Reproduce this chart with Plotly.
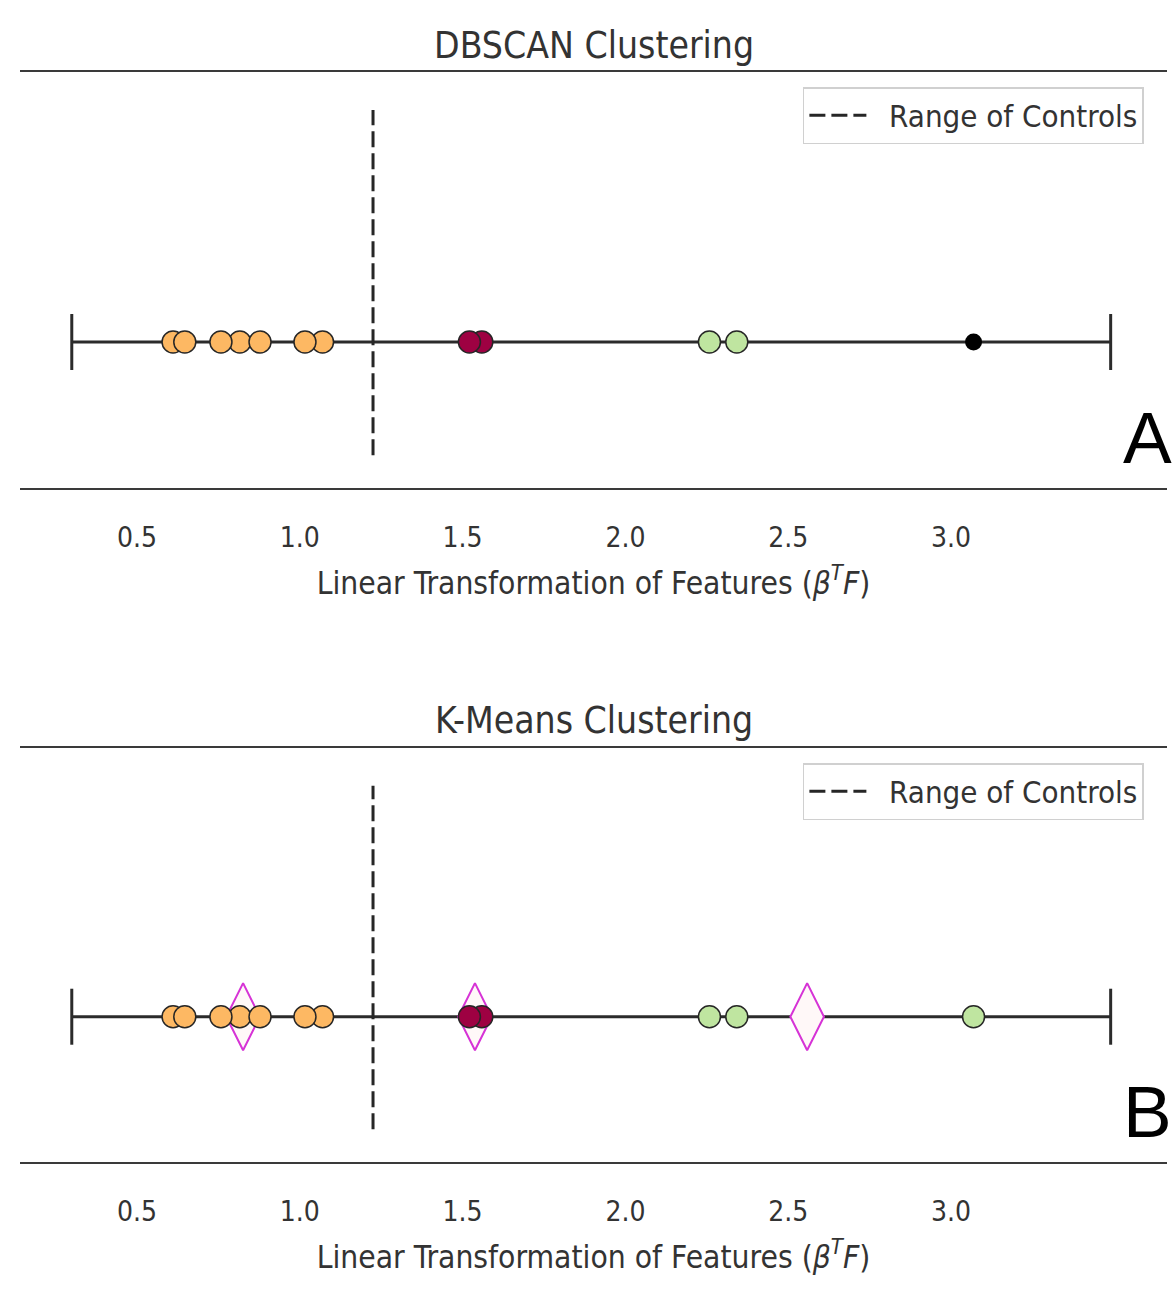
import plotly.graph_objects as go

# Projected values (beta^T F) per sample, grouped by cluster label
orange_x = [0.611, 0.816, 1.070, 0.647, 0.758, 0.878, 1.016]
red_x = [1.559, 1.521]
green_x = [2.258, 2.342]
noise_x = [3.069]                      # DBSCAN noise point
kmeans_green_x = [2.258, 2.342, 3.069]  # K-Means assigns the outlier to the green cluster
centroid_x = [0.826, 1.538, 2.558]      # K-Means cluster centres

# Overall extent of the projected values and the control range marker
range_lo, range_hi = 0.30, 3.49
control_x = 1.225
control_y = [-1.0, 2.05]

x_ticks = [0.5, 1.0, 1.5, 2.0, 2.5, 3.0]
x_tick_text = ["0.5", "1.0", "1.5", "2.0", "2.5", "3.0"]

titles = ["DBSCAN Clustering", "K-Means Clustering"]
panel_letters = ["A", "B"]

ORANGE = "#fdb863"
RED = "#9e0142"
GREEN = "#bfe5a0"
EDGE = "#262626"
MAGENTA = "#d633d6"
TEXT = "#333333"
FONT = "DejaVu Sans Condensed, DejaVu Sans, sans-serif"

W, H = 1175, 1310
# vertical pixel extents of each panel's plotting area
panel_px = [(72, 488), (748, 1162)]
x_range = [0.141, 3.663]
y_range = [-1.29, 2.386]

fig = go.Figure()


def circles(xs, color, axis_id, size=22, edge_w=1.5, edge=EDGE):
    return go.Scatter(
        x=xs, y=[0] * len(xs), mode="markers",
        marker=dict(symbol="circle", size=size, color=color,
                    line=dict(color=edge, width=edge_w)),
        xaxis="x" + axis_id, yaxis="y" + axis_id,
        showlegend=False, hoverinfo="x",
    )


for i in range(2):
    aid = "" if i == 0 else str(i + 1)
    legend_name = "legend" if i == 0 else "legend2"

    # horizontal extent line with end caps
    fig.add_trace(go.Scatter(
        x=[range_lo, range_hi], y=[0, 0], mode="lines+markers",
        line=dict(color="#2b2b2b", width=3),
        marker=dict(symbol="line-ns-open", size=40,
                    line=dict(color="#2b2b2b", width=3)),
        xaxis="x" + aid, yaxis="y" + aid, showlegend=False, hoverinfo="skip",
    ))

    # control range
    fig.add_trace(go.Scatter(
        x=[control_x, control_x], y=control_y, mode="lines",
        line=dict(color="#262626", width=3, dash="16px,6px"),
        name="\u00a0\u00a0Range of Controls", legend=legend_name,
        xaxis="x" + aid, yaxis="y" + aid, hoverinfo="skip",
    ))

    if i == 1:
        fig.add_trace(go.Scatter(
            x=centroid_x, y=[0] * len(centroid_x), mode="markers",
            marker=dict(symbol="diamond-tall", size=48, color="#fff8f8",
                        line=dict(color=MAGENTA, width=2)),
            xaxis="x" + aid, yaxis="y" + aid, showlegend=False, hoverinfo="x",
        ))

    fig.add_trace(circles(orange_x, ORANGE, aid))
    fig.add_trace(circles(red_x, RED, aid))
    if i == 0:
        fig.add_trace(circles(green_x, GREEN, aid))
        fig.add_trace(circles(noise_x, "black", aid, size=17, edge_w=0, edge="black"))
    else:
        fig.add_trace(circles(kmeans_green_x, GREEN, aid))

    top_px, bot_px = panel_px[i]
    dom = [1 - bot_px / H, 1 - top_px / H]

    fig.layout["xaxis" + aid] = dict(
        domain=[0, 1], range=x_range, anchor="y" + aid,
        showline=True, mirror=True, linecolor="#3a3a3a", linewidth=2,
        showgrid=False, zeroline=False,
        tickvals=x_ticks, ticktext=x_tick_text,
        ticks="outside", ticklen=23, tickcolor="rgba(0,0,0,0)",
        tickfont=dict(family=FONT, size=28, color=TEXT),
        title=dict(
            text="Linear Transformation of Features (<i>β</i><sup><i>T</i></sup><i>F</i>)",
            font=dict(family=FONT, size=31.5, color=TEXT), standoff=19),
        automargin=False, fixedrange=True,
    )
    fig.layout["yaxis" + aid] = dict(
        domain=dom, range=y_range, anchor="x" + aid,
        visible=False, fixedrange=True,
    )

    fig.layout[legend_name] = dict(
        x=802 / W, y=1 - (top_px + 15) / H, xanchor="left", yanchor="top",
        bgcolor="white", bordercolor="#d0d0d0", borderwidth=1.5,
        font=dict(family=FONT, size=31, color=TEXT),
        itemwidth=57,
    )

    # panel title
    fig.add_annotation(
        text=titles[i], x=0.5, xref="paper", y=1 - (top_px - 27) / H, yref="paper",
        showarrow=False, xanchor="center", yanchor="middle",
        font=dict(family=FONT, size=37, color=TEXT),
    )
    # panel letter
    fig.add_annotation(
        text=panel_letters[i], x=1182 / W, xref="paper", y=1 - (bot_px - 8) / H,
        yref="paper", showarrow=False, xanchor="right", yanchor="bottom",
        font=dict(family="Liberation Sans, Arial, sans-serif", size=73, color="black"),
    )

fig.update_layout(
    width=W, height=H,
    margin=dict(l=20, r=8, t=0, b=0),
    paper_bgcolor="white", plot_bgcolor="white",
    showlegend=True,
)

fig.write_html("out.html")
